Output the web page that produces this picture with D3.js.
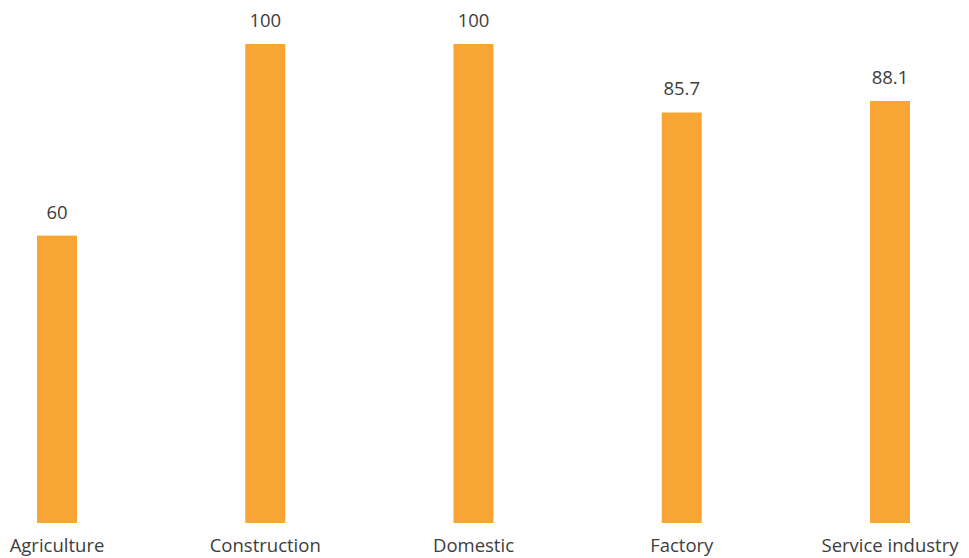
<!DOCTYPE html>
<html><head><meta charset="utf-8">
<script src="https://cdn.jsdelivr.net/npm/d3@7"></script>
<style>body{margin:0;background:#fff}svg{display:block}</style>
</head><body>
<script>
const categories = ["Agriculture","Construction","Domestic","Factory","Service industry"];
const values = [60, 100, 100, 85.7, 88.1];
const valueLabels = ["60","100","100","85.7","88.1"];

const W = 969, H = 558;
const svg = d3.select("body").append("svg").attr("width", W).attr("height", H);
const x = d3.scalePoint().domain(categories).range([57, 890]);
const y = d3.scaleLinear().domain([0, 100]).range([523, 44]);
const bw = 40;
const font = "'Open Sans', 'Noto Sans', sans-serif";

svg.selectAll("rect.bar").data(values).enter().append("rect")
  .attr("class","bar")
  .attr("x", (d,i) => x(categories[i]) - bw/2)
  .attr("y", d => y(d))
  .attr("width", bw)
  .attr("height", d => y(0) - y(d))
  .attr("fill", "#F9A533");

svg.selectAll("text.val").data(values).enter().append("text")
  .attr("class","val")
  .attr("x", (d,i) => x(categories[i]))
  .attr("y", d => y(d) - 17)
  .attr("text-anchor","middle")
  .attr("font-family", font)
  .attr("font-size", 18.5)
  .attr("fill", "#3d3d3d")
  .text((d,i) => valueLabels[i]);

svg.selectAll("text.cat").data(categories).enter().append("text")
  .attr("class","cat")
  .attr("x", d => x(d))
  .attr("y", 552)
  .attr("text-anchor","middle")
  .attr("font-family", font)
  .attr("font-size", 18.5)
  .attr("fill", "#3d3d3d")
  .text(d => d);
</script>
</body></html>
